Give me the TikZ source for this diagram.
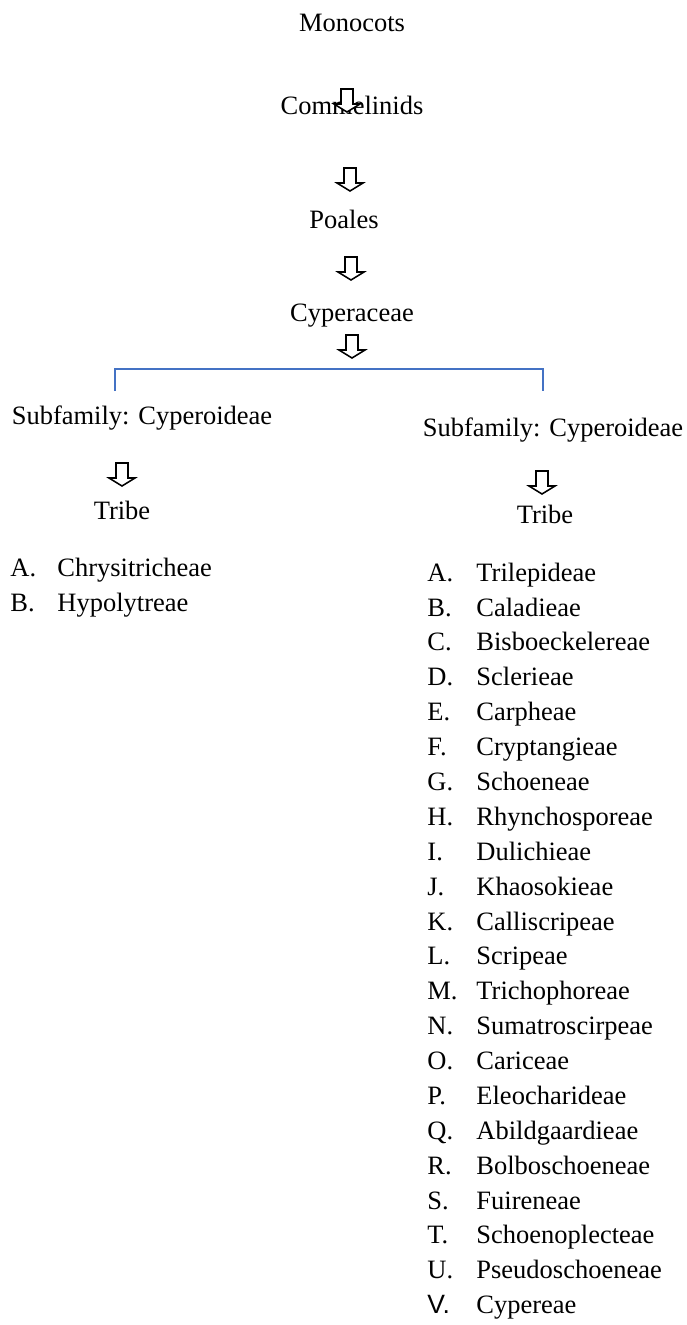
\documentclass[tikz,border=0pt]{standalone}
\usepackage{fontspec}
\setmainfont{Liberation Serif}
\newfontfamily\sanslabel{Liberation Sans}
\definecolor{wordblue}{RGB}{68,114,196}
\tikzset{
  taxon/.style={font=\fontsize{12}{14}\selectfont, inner sep=0pt, text height=8.5pt, text depth=2.5pt},
  letter/.style={text width=#1, align=left},
  bracket/.style={draw=wordblue, line width=0.9pt},
  hollow arrow/.pic={
    \draw[line width=0.7pt, fill=white, line join=miter]
      (-6,0) -- (-6,15) -- (-13,15) -- (0,23) -- (13,15) -- (6,15) -- (6,0) -- cycle;
  }
}
\begin{document}
\begin{tikzpicture}[x=0.453pt, y=-0.453pt, every node/.style={taxon}]
    \useasboundingbox (0,0) rectangle (687,1325);
    % main line
    \node (mono) at (352,25)  {Monocots};
    \node (comm) at (352,108) {Commelinids};
    \node (poal) at (344,222) {Poales};
    \node (cype) at (352,315) {Cyperaceae};
    \pic at (347,89)  {hollow arrow};
    \pic at (350,168) {hollow arrow};
    \pic at (351,257) {hollow arrow};
    \pic at (352,335) {hollow arrow};
    % split
    \coordinate (brL) at (115,391);
    \coordinate (brR) at (543,391);
    \draw[bracket] (brL) -- ++(0,-22) -| (brR);
    \node (subL) at (142,418) {Subfamily: Cyperoideae};
    \node (subR) at (553,430) {Subfamily: Cyperoideae};
    \pic at (122,463) {hollow arrow};
    \pic at (542,471) {hollow arrow};
    \node (tribeL) at (122,513) {Tribe};
    \node (tribeR) at (545,517) {Tribe};
    % tribes, left
    \matrix (listL) [anchor=north west, inner sep=0pt, row sep=4.8pt,
                     nodes={anchor=base west}] at (10,557)
    {
        \node[letter=21.3pt] (lA) {A.}; & \node (lChry) {Chrysitricheae}; \\
        \node[letter=21.3pt] (lB) {B.}; & \node (lHypo) {Hypolytreae}; \\
    };
    % tribes, right
    \matrix (listR) [anchor=north west, inner sep=0pt, row sep=4.8pt,
                     nodes={anchor=base west}] at (427,562)
    {
        \node[letter=22.2pt] (rA) {A.}; & \node (rTril) {Trilepideae}; \\
        \node[letter=22.2pt] (rB) {B.}; & \node (rCala) {Caladieae}; \\
        \node[letter=22.2pt] (rC) {C.}; & \node (rBisb) {Bisboeckelereae}; \\
        \node[letter=22.2pt] (rD) {D.}; & \node (rScle) {Sclerieae}; \\
        \node[letter=22.2pt] (rE) {E.}; & \node (rCarp) {Carpheae}; \\
        \node[letter=22.2pt] (rF) {F.}; & \node (rCryp) {Cryptangieae}; \\
        \node[letter=22.2pt] (rG) {G.}; & \node (rScho) {Schoeneae}; \\
        \node[letter=22.2pt] (rH) {H.}; & \node (rRhyn) {Rhynchosporeae}; \\
        \node[letter=22.2pt] (rI) {I.}; & \node (rDuli) {Dulichieae}; \\
        \node[letter=22.2pt] (rJ) {J.}; & \node (rKhao) {Khaosokieae}; \\
        \node[letter=22.2pt] (rK) {K.}; & \node (rCall) {Calliscripeae}; \\
        \node[letter=22.2pt] (rL) {L.}; & \node (rScri) {Scripeae}; \\
        \node[letter=22.2pt] (rM) {M.}; & \node (rTric) {Trichophoreae}; \\
        \node[letter=22.2pt] (rN) {N.}; & \node (rSuma) {Sumatroscirpeae}; \\
        \node[letter=22.2pt] (rO) {O.}; & \node (rCari) {Cariceae}; \\
        \node[letter=22.2pt] (rP) {P.}; & \node (rEleo) {Eleocharideae}; \\
        \node[letter=22.2pt] (rQ) {Q.}; & \node (rAbil) {Abildgaardieae}; \\
        \node[letter=22.2pt] (rR) {R.}; & \node (rBolb) {Bolboschoeneae}; \\
        \node[letter=22.2pt] (rS) {S.}; & \node (rFuir) {Fuireneae}; \\
        \node[letter=22.2pt] (rT) {T.}; & \node (rSchp) {Schoenoplecteae}; \\
        \node[letter=22.2pt] (rU) {U.}; & \node (rPseu) {Pseudoschoeneae}; \\
        \node[letter=22.2pt] (rV) {\sanslabel V.}; & \node (rCype) {Cypereae}; \\
    };
\end{tikzpicture}
\end{document}
